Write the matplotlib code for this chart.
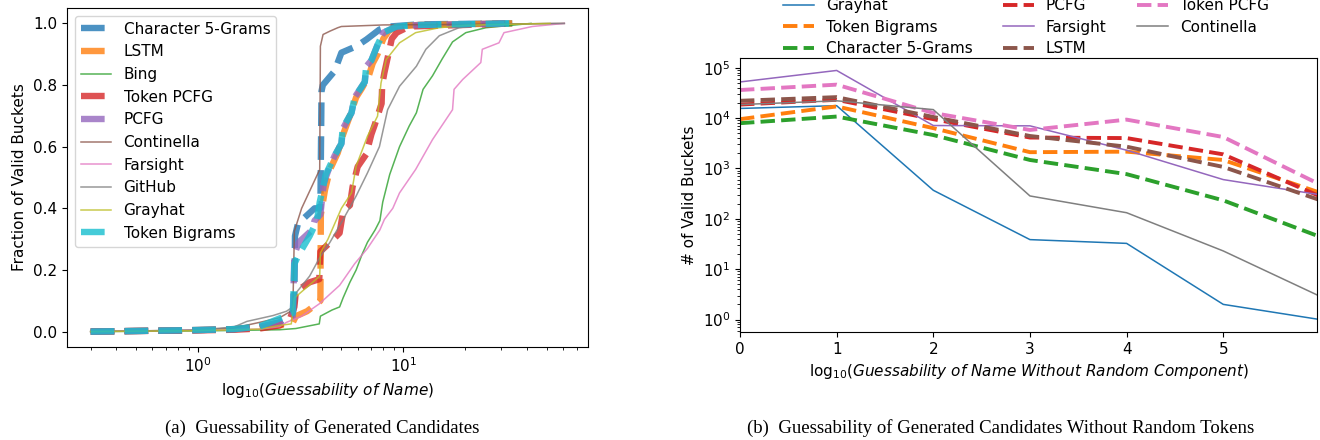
import matplotlib
matplotlib.use("Agg")
import matplotlib.pyplot as plt
from matplotlib.ticker import LogLocator, NullFormatter

# ---------------- Data: left panel (CDF of guessability) ----------------
char5_x = [0.3, 0.5, 0.8, 1.0, 1.5, 2.0, 2.5, 2.9, 2.95, 2.97, 3.07, 3.7, 3.95, 4.0, 4.06, 4.63, 5.0, 5.92, 6.63, 7.66, 8.6, 12.0, 34.0]
char5_y = [0.0, 0.002, 0.004, 0.005, 0.008, 0.015, 0.03, 0.06, 0.10, 0.31, 0.35, 0.40, 0.40, 0.78, 0.80, 0.845, 0.905, 0.926, 0.948, 0.98, 0.99, 0.997, 1.0]

lstm_x = [0.3, 0.5, 0.8, 1.0, 1.5, 2.0, 2.5, 2.9, 3.0, 3.4, 3.8, 3.95, 3.97, 4.16, 4.4, 4.8, 5.1, 5.5, 5.9, 6.3, 6.8, 7.1, 7.5, 8.0, 8.5, 9.3, 12.0, 34.0]
lstm_y = [0.0, 0.002, 0.004, 0.005, 0.008, 0.012, 0.02, 0.03, 0.05, 0.066, 0.09, 0.10, 0.38, 0.46, 0.526, 0.58, 0.64, 0.70, 0.76, 0.79, 0.83, 0.87, 0.90, 0.95, 0.975, 0.99, 0.995, 1.0]

bing_x = [0.3, 1.0, 2.0, 2.5, 3.0, 3.9, 3.95, 4.5, 4.9, 5.1, 5.5, 5.9, 6.3, 6.7, 7.3, 7.7, 7.95, 8.6, 9.6, 10.7, 11.6, 12.5, 13.9, 15.5, 17.4, 20.2, 25.3, 42.0]
bing_y = [0.0, 0.002, 0.005, 0.006, 0.01, 0.025, 0.05, 0.07, 0.08, 0.11, 0.16, 0.20, 0.25, 0.29, 0.33, 0.36, 0.42, 0.51, 0.60, 0.667, 0.71, 0.786, 0.83, 0.885, 0.94, 0.97, 0.986, 1.0]

tpcfg_x = [0.3, 0.5, 0.8, 1.0, 1.5, 2.0, 2.5, 2.8, 2.95, 3.0, 3.5, 3.9, 3.95, 4.1, 4.5, 4.9, 5.1, 5.5, 5.67, 6.0, 6.6, 7.0, 7.26, 7.85, 7.9, 8.1, 8.8, 9.3, 10.7, 20.0, 34.0]
tpcfg_y = [0.0, 0.002, 0.003, 0.004, 0.006, 0.01, 0.02, 0.04, 0.08, 0.13, 0.16, 0.17, 0.26, 0.27, 0.295, 0.32, 0.39, 0.41, 0.47, 0.535, 0.575, 0.64, 0.67, 0.74, 0.80, 0.84, 0.95, 0.97, 0.99, 0.995, 1.0]

pcfg_x = [0.3, 0.5, 0.8, 1.0, 1.5, 2.0, 2.5, 2.9, 2.95, 3.1, 3.6, 3.7, 3.95, 4.1, 4.3, 4.63, 5.0, 5.1, 5.6, 5.8, 6.5, 6.6, 7.0, 7.5, 8.0, 9.3, 12.0, 34.0]
pcfg_y = [0.0, 0.002, 0.004, 0.005, 0.008, 0.015, 0.03, 0.05, 0.25, 0.29, 0.33, 0.36, 0.38, 0.48, 0.52, 0.57, 0.61, 0.66, 0.71, 0.76, 0.81, 0.86, 0.88, 0.93, 0.97, 0.99, 0.995, 1.0]

cont_x = [0.3, 1.0, 1.5, 2.0, 2.5, 2.9, 2.95, 3.2, 3.92, 3.95, 4.07, 4.4, 4.8, 5.0, 8.0, 20.0, 61.0]
cont_y = [0.0, 0.005, 0.012, 0.03, 0.045, 0.07, 0.326, 0.40, 0.526, 0.926, 0.964, 0.975, 0.986, 0.99, 0.995, 0.997, 1.0]

fars_x = [0.3, 1.0, 2.0, 2.5, 2.7, 3.2, 3.9, 4.9, 5.8, 6.7, 7.7, 8.1, 8.9, 9.6, 11.5, 13.9, 17.4, 17.7, 19.5, 23.9, 24.3, 29.3, 31.0, 42.6, 61.0]
fars_y = [0.0, 0.004, 0.008, 0.016, 0.03, 0.05, 0.09, 0.15, 0.22, 0.27, 0.33, 0.364, 0.40, 0.45, 0.526, 0.623, 0.72, 0.786, 0.818, 0.873, 0.916, 0.937, 0.97, 0.99, 1.0]

github_x = [0.3, 1.0, 1.5, 1.73, 2.32, 2.7, 2.9, 3.0, 3.5, 3.92, 4.4, 5.1, 5.9, 6.7, 7.66, 8.4, 9.6, 11.6, 12.9, 15.0, 18.7, 25.3, 61.0]
github_y = [0.0, 0.005, 0.015, 0.033, 0.052, 0.066, 0.08, 0.125, 0.18, 0.24, 0.29, 0.364, 0.44, 0.515, 0.60, 0.72, 0.796, 0.861, 0.916, 0.96, 0.986, 0.997, 1.0]

grayhat_x = [0.3, 1.0, 2.0, 2.5, 2.85, 2.95, 3.92, 3.95, 4.3, 5.0, 5.6, 5.9, 6.7, 7.5, 7.8, 8.27, 9.6, 11.5, 15.0, 20.2, 52.0]
grayhat_y = [0.0, 0.003, 0.008, 0.02, 0.025, 0.109, 0.18, 0.255, 0.30, 0.40, 0.45, 0.537, 0.634, 0.699, 0.807, 0.883, 0.937, 0.97, 0.986, 0.994, 1.0]

tbig_x = [0.3, 0.5, 0.8, 1.0, 1.5, 2.0, 2.3, 2.9, 2.95, 3.1, 3.5, 3.8, 3.92, 4.2, 4.63, 5.0, 5.07, 5.6, 5.8, 6.5, 6.6, 7.0, 7.5, 8.0, 9.3, 12.0, 34.0]
tbig_y = [0.0, 0.002, 0.004, 0.005, 0.008, 0.017, 0.033, 0.06, 0.22, 0.25, 0.31, 0.36, 0.42, 0.51, 0.57, 0.61, 0.66, 0.71, 0.76, 0.81, 0.86, 0.88, 0.93, 0.97, 0.99, 0.995, 1.0]

# ---------------- Data: right panel (counts per guessability bucket) ----------------
bucket_x = [0, 1, 2, 3, 4, 5, 6]
r_grayhat = [1.55e4, 1.76e4, 368, 38.6, 32.5, 2.0, 1.0]
r_tbig = [9.5e3, 1.7e4, 6.3e3, 2.1e3, 2.15e3, 1.47e3, 330]
r_char5 = [7.9e3, 1.07e4, 4.6e3, 1.47e3, 770, 232, 44]
r_pcfg = [1.85e4, 2.3e4, 9.5e3, 4.1e3, 4.0e3, 1.9e3, 280]
r_fars = [5.2e4, 8.8e4, 7.1e3, 7.0e3, 2.3e3, 600, 300]
r_lstm = [2.2e4, 2.6e4, 1.05e4, 4.4e3, 2.7e3, 1.07e3, 235]
r_tpcfg = [3.6e4, 4.6e4, 1.26e4, 5.8e3, 9.3e3, 4.2e3, 480]
r_cont = [1.85e4, 2.2e4, 1.47e4, 284, 132, 23, 2.9]

plt.rcParams['font.family'] = ['DejaVu Sans']
plt.rcParams['font.size'] = 11

fig = plt.figure(figsize=(13.2, 4.4), dpi=100)

# ---------- Left panel ----------
axL = fig.add_axes([67 / 1320, 1 - 347 / 440, (588 - 67) / 1320, (347 - 8) / 440])
left_series = [
    (char5_x, char5_y, 'Character 5-Grams', 'C0', True),
    (lstm_x, lstm_y, 'LSTM', 'C1', True),
    (bing_x, bing_y, 'Bing', 'C2', False),
    (tpcfg_x, tpcfg_y, 'Token PCFG', 'C3', True),
    (pcfg_x, pcfg_y, 'PCFG', 'C4', True),
    (cont_x, cont_y, 'Continella', 'C5', False),
    (fars_x, fars_y, 'Farsight', 'C6', False),
    (github_x, github_y, 'GitHub', 'C7', False),
    (grayhat_x, grayhat_y, 'Grayhat', 'C8', False),
    (tbig_x, tbig_y, 'Token Bigrams', 'C9', True),
]
for xs, ys, lab, col, dashed in left_series:
    if dashed:
        axL.plot(xs, ys, color=col, lw=4.6, ls='--', alpha=0.8, label=lab)
    else:
        axL.plot(xs, ys, color=col, lw=1.1, ls='-', alpha=0.8, label=lab)
axL.set_xscale('log')
axL.set_yticks([0.0, 0.2, 0.4, 0.6, 0.8, 1.0])
axL.set_ylabel('Fraction of Valid Buckets')
axL.set_xlabel(r'log$_{10}$($\it{Guessability\ of\ Name}$)')
axL.legend(loc='upper left', fontsize=11, labelspacing=0.5, borderaxespad=0.5)

# ---------- Right panel ----------
axR = fig.add_axes([740 / 1320, 1 - 332 / 440, (1317 - 740) / 1320, (332 - 58) / 440])
right_series = [
    (r_grayhat, 'Grayhat', 'C0', False),
    (r_tbig, 'Token Bigrams', 'C1', True),
    (r_char5, 'Character 5-Grams', 'C2', True),
    (r_pcfg, 'PCFG', 'C3', True),
    (r_fars, 'Farsight', 'C4', False),
    (r_lstm, 'LSTM', 'C5', True),
    (r_tpcfg, 'Token PCFG', 'C6', True),
    (r_cont, 'Continella', 'C7', False),
]
for ys, lab, col, dashed in right_series:
    if dashed:
        axR.plot(bucket_x, ys, color=col, lw=2.8, ls='--', label=lab)
    else:
        axR.plot(bucket_x, ys, color=col, lw=1.1, ls='-', label=lab)
axR.set_yscale('log')
axR.set_xlim(0, 5.97)
axR.set_xticks([0, 1, 2, 3, 4, 5])
axR.yaxis.set_minor_locator(LogLocator(base=10, subs=range(2, 10), numticks=20))
axR.yaxis.set_minor_formatter(NullFormatter())
axR.set_ylabel('# of Valid Buckets')
axR.set_xlabel(r'log$_{10}$($\it{Guessability\ of\ Name\ Without\ Random\ Component}$)')
axR.legend(loc='lower left', bbox_to_anchor=(0.064, 0.985), ncol=3, frameon=False,
           fontsize=11, borderaxespad=0.0, columnspacing=2.0, labelspacing=0.42)

# ---------- Captions ----------
fig.text(322 / 1320, 1 - 428 / 440, '(a)  Guessability of Generated Candidates',
         ha='center', va='center', family='Liberation Serif', fontsize=13.5)
fig.text(1001 / 1320, 1 - 428 / 440, '(b)  Guessability of Generated Candidates Without Random Tokens',
         ha='center', va='center', family='Liberation Serif', fontsize=13.5)

fig.savefig('out.png', dpi=100)
